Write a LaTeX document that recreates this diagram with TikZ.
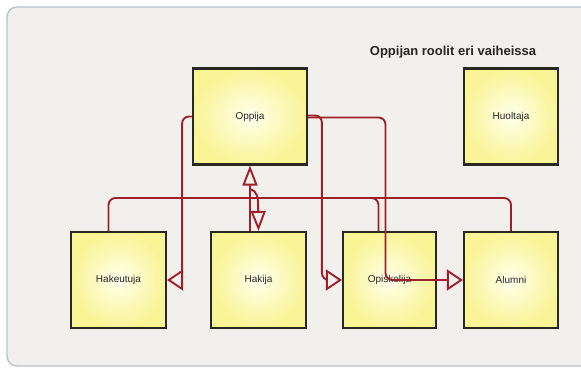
\documentclass[tikz,border=0pt]{standalone}
\usepackage{fontspec}
\setmainfont{Liberation Sans}
\usetikzlibrary{arrows.meta,calc}
\definecolor{assoc}{RGB}{158,32,42}
\definecolor{boxedge}{RGB}{40,40,30}
\definecolor{paper}{RGB}{242,240,236}
\definecolor{frameedge}{RGB}{182,194,208}
\definecolor{rolein}{RGB}{255,255,235}
\definecolor{roleout}{RGB}{249,244,150}
\tikzset{
  role/.style={draw=boxedge, line width=2.2pt, inner color=rolein, outer color=roleout,
               minimum width=#1, minimum height=96, inner sep=0pt,
               font=\fontsize{10}{11}\selectfont, text=black!85},
  role/.default=95,
  conn/.style={draw=assoc, line width=1.9pt, rounded corners=7pt},
  gen/.style={-{Triangle[length=20pt, width=15pt, fill=paper, line width=1.9pt]}},
  assocarr/.style={-{Triangle[length=16pt, width=21pt, fill=paper, line width=1.9pt]}},
  frame/.style={draw=frameedge, line width=1.4pt, fill=paper, rounded corners=10pt},
  heading/.style={font=\bfseries\fontsize{13}{15}\selectfont, text=black!85},
}
\begin{document}
\begin{tikzpicture}[x=1pt, y=-1pt]
  \useasboundingbox (0,0) rectangle (581,369);
  \draw[frame] (7,7) rectangle (600,366);
  \node[heading] (ttl) at (453,52) {Oppijan roolit eri vaiheissa};
  % roolit
  \foreach \nm/\txt/\x/\y/\w in
      {oppija/Oppija/250/116.5/114, huoltaja/Huoltaja/511/116.5/94,
       hakeutuja/Hakeutuja/118.5/280/95, hakija/Hakija/258.5/280/95,
       opiskelija/Opiskelija/389.5/280/93, alumni/Alumni/511/280/94}
    \node[role=\w] (\nm) at (\x,\y) {\txt};
  % yleistykset
  \coordinate (jn) at (250,198);
  \coordinate (hk) at (250,189);
  \draw[conn] ([xshift=-10]hakeutuja.north) |- (jn);
  \draw[conn] (alumni.north) |- (jn);
  \draw[conn] ([xshift=-11]opiskelija.north) |- (jn);
  \draw[conn, gen] (oppija.south |- hakija.north) -- (oppija.south);
  \draw[conn, gen] (hk) .. controls (258,192) and (258,196) .. (hakija.north);
  % assosiaatiot
  \draw[conn, assocarr] (oppija.west) -| ([xshift=15]hakeutuja.east) -- (hakeutuja.east);
  \draw[conn, assocarr] ([yshift=1]oppija.east) -| ([xshift=-20]opiskelija.west) -- (opiskelija.west);
  \draw[conn, assocarr] ([yshift=-1]oppija.east) -| ([xshift=-4]opiskelija.center) -- (alumni.west);
\end{tikzpicture}
\end{document}
